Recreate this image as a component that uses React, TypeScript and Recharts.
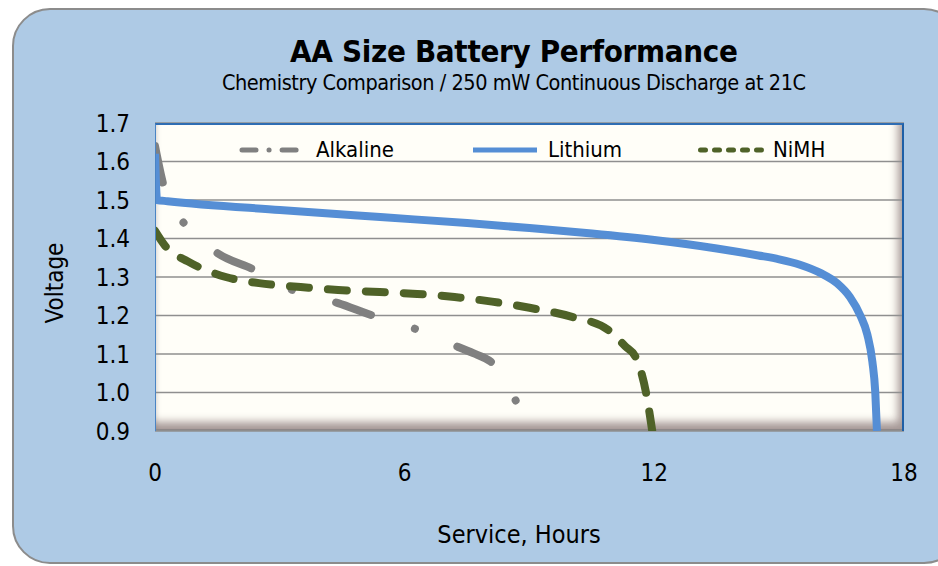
import React from "react";
import { LineChart, Line, XAxis, YAxis, CartesianGrid, Legend } from "recharts";

// Service hours vs voltage
const alkalineHours = [0, 0.2, 0.72, 1.5, 2.4, 3.3, 4.4, 5.2, 6.26, 7.27, 7.7, 8.1, 8.78];
const alkalineVolts = [1.64, 1.54, 1.436, 1.362, 1.318, 1.266, 1.232, 1.201, 1.165, 1.119, 1.1, 1.077, 0.955];

const lithiumHours = [0, 0.05, 0.3, 3, 5.5, 7.5, 9, 10.5, 12, 13.5, 14.5, 15, 15.5, 16, 16.4, 16.7, 16.95, 17.12, 17.24, 17.31, 17.35];
const lithiumVolts = [1.62, 1.5, 1.497, 1.474, 1.455, 1.44, 1.427, 1.413, 1.396, 1.374, 1.356, 1.346, 1.332, 1.31, 1.283, 1.248, 1.2, 1.15, 1.08, 1.0, 0.9];

const nimhHours = [0, 0.25, 0.8, 1.7, 2.5, 3.5, 4.4, 5.4, 6.3, 7.2, 8.1, 9.0, 10.0, 10.9, 11.3, 11.55, 11.8, 11.95];
const nimhVolts = [1.42, 1.38, 1.34, 1.3, 1.284, 1.274, 1.266, 1.261, 1.256, 1.248, 1.236, 1.22, 1.197, 1.162, 1.12, 1.092, 1.0, 0.9];

const xTicks = [0, 6, 12, 18];
const yTicks = [0.9, 1.0, 1.1, 1.2, 1.3, 1.4, 1.5, 1.6, 1.7];

const toPoints = (hours: number[], volts: number[]) => hours.map((h, i) => ({ h, v: volts[i] }));

const alkaline = toPoints(alkalineHours, alkalineVolts);
const lithium = toPoints(lithiumHours, lithiumVolts);
const nimh = toPoints(nimhHours, nimhVolts);

const FONT = '"DejaVu Sans Condensed", "DejaVu Sans", sans-serif';
const GRAY = "#808080";
const BLUE = "#558ed5";
const GREEN = "#4f6228";

const W = 938;
const H = 566;
// plot area in the reference
const PLOT = { left: 155, top: 123, right: 904, bottom: 431 };
const Y_AXIS_W = 70;
const X_AXIS_H = 60;

function ChartLegend() {
  const text: React.CSSProperties = {
    position: "absolute", top: 0, fontSize: 22, lineHeight: "30px",
    fontFamily: FONT, fontStretch: "condensed", color: "#000",
  };
  return (
    <div style={{ position: "relative", width: W, height: 30 }}>
      <svg style={{ position: "absolute", left: 239, top: 0 }} width={62} height={30}>
        <line x1={3} y1={15} x2={58} y2={15} stroke={GRAY} strokeWidth={5}
          strokeLinecap="round" strokeDasharray="14 13 0.1 13" />
      </svg>
      <span style={{ ...text, left: 316 }}>Alkaline</span>
      <svg style={{ position: "absolute", left: 470, top: 0 }} width={70} height={30}>
        <line x1={3} y1={15} x2={67} y2={15} stroke={BLUE} strokeWidth={5} />
      </svg>
      <span style={{ ...text, left: 548 }}>Lithium</span>
      <svg style={{ position: "absolute", left: 696, top: 0 }} width={74} height={30}>
        <line x1={4.5} y1={15} x2={72} y2={15} stroke={GREEN} strokeWidth={5}
          strokeLinecap="round" strokeDasharray="5 9" />
      </svg>
      <span style={{ ...text, left: 773 }}>NiMH</span>
    </div>
  );
}

export default function App() {
  const plotW = PLOT.right - PLOT.left;
  const plotH = PLOT.bottom - PLOT.top;
  const tick = { fontSize: 24, fill: "#000", fontFamily: FONT, fontStretch: "condensed" } as any;

  return (
    <div style={{ position: "absolute", left: 0, top: 0, width: W, height: H, overflow: "hidden", background: "#fff" }}>
      {/* outer rounded frame */}
      <div style={{
        position: "absolute", left: 12, top: 8, width: 950, height: 556,
        background: "#aecae5", border: "2px solid #8c8c8c", borderRadius: 38, boxSizing: "border-box",
      }} />

      {/* plot background with bevel */}
      <div style={{
        position: "absolute", left: PLOT.left, top: PLOT.top, width: plotW, height: plotH,
        background: "#fffef8", boxSizing: "border-box", borderBottom: "2px solid #8d8787",
        boxShadow: "inset -10px -11px 9px -4px rgba(120,100,100,0.65), inset 4px 0 4px -2px rgba(140,130,130,0.35), inset 0 4px 4px -2px rgba(255,255,255,1)",
      }} />

      <div style={{ position: "absolute", left: 0, top: 0 }}>
        <LineChart
          width={W}
          height={H}
          margin={{ top: PLOT.top, right: W - PLOT.right, bottom: H - PLOT.bottom - X_AXIS_H, left: PLOT.left - Y_AXIS_W }}
        >
          <CartesianGrid vertical={false} stroke="#8f8f8f" strokeWidth={1.5} />
          <XAxis
            type="number" dataKey="h" domain={[0, 18]} ticks={xTicks} height={X_AXIS_H}
            axisLine={false} tickLine={false} tickSize={0} tickMargin={33} tick={tick}
            allowDataOverflow
          />
          <YAxis
            type="number" domain={[0.9, 1.7]} ticks={yTicks} width={Y_AXIS_W}
            axisLine={false} tickLine={false} tickSize={0} tickMargin={25} tick={tick}
            tickFormatter={(v: number) => v.toFixed(1)} allowDataOverflow
          />
          <Legend
            layout="vertical" align="center" verticalAlign="middle"
            wrapperStyle={{ position: "absolute", top: 135, left: 0, width: W }}
            content={() => <ChartLegend />}
          />
          <Line data={alkaline} dataKey="v" type="monotone" stroke={GRAY} strokeWidth={8}
            strokeLinecap="round" strokeDasharray="37 46 0.1 46" dot={false} activeDot={false}
            isAnimationActive={false} />
          <Line data={lithium} dataKey="v" type="monotone" stroke={BLUE} strokeWidth={8}
            dot={false} activeDot={false} isAnimationActive={false} />
          <Line data={nimh} dataKey="v" type="monotone" stroke={GREEN} strokeWidth={8}
            strokeLinecap="round" strokeDasharray="19 19" dot={false} activeDot={false}
            isAnimationActive={false} />
        </LineChart>
      </div>

      {/* plot border drawn above the grid */}
      <div style={{
        position: "absolute", left: PLOT.left, top: PLOT.top, width: plotW, height: plotH,
        boxSizing: "border-box", pointerEvents: "none",
        borderTop: "2px solid #2f6db3", borderLeft: "1px solid #4a84c4", borderRight: "2px solid #1f5fa6",
      }} />

      {/* titles and axis titles */}
      <svg style={{ position: "absolute", left: 0, top: 0, pointerEvents: "none" }} width={W} height={H}>
        <text x={514} y={62} textAnchor="middle" fontFamily={FONT} fontWeight="bold" fontSize={31}
          style={{ fontStretch: "condensed" }} textLength={448} lengthAdjust="spacing">
          AA Size Battery Performance
        </text>
        <text x={514} y={90} textAnchor="middle" fontFamily={FONT} fontSize={21.5}
          style={{ fontStretch: "condensed" }} textLength={584} lengthAdjust="spacing">
          Chemistry Comparison / 250 mW Continuous Discharge at 21C
        </text>
        <text x={519} y={543} textAnchor="middle" fontFamily={FONT} fontSize={25}
          style={{ fontStretch: "condensed" }}>
          Service, Hours
        </text>
        <text x={0} y={0} textAnchor="middle" fontFamily={FONT} fontSize={24}
          style={{ fontStretch: "condensed" }} transform="translate(63 283) rotate(-90)">
          Voltage
        </text>
      </svg>
    </div>
  );
}
